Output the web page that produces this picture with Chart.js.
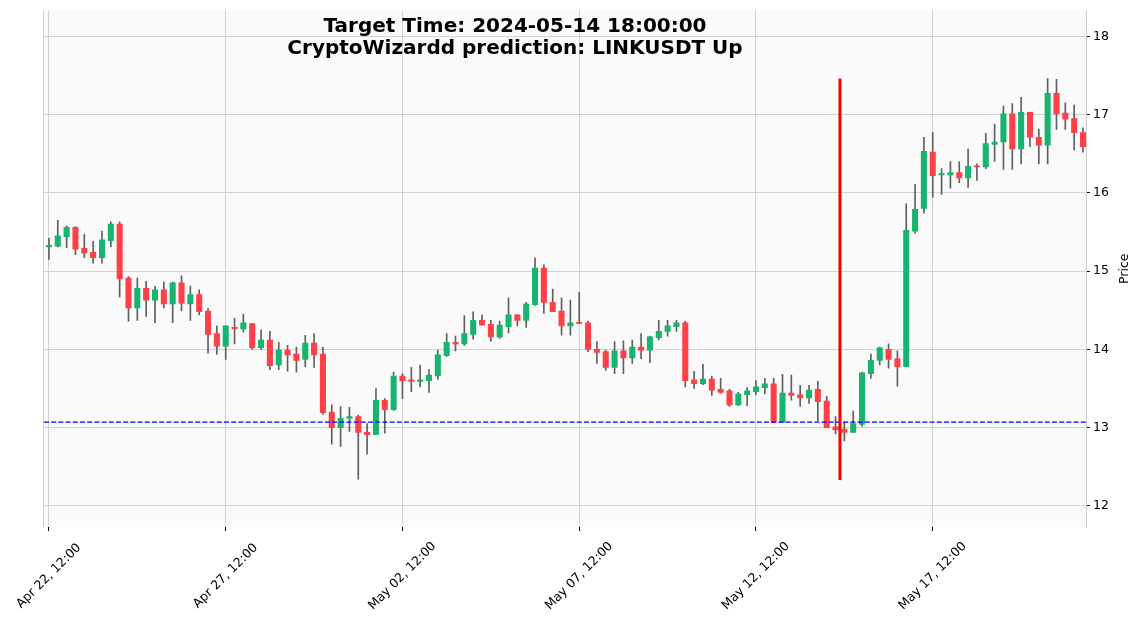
<!DOCTYPE html>
<html>
<head>
<meta charset="utf-8">
<script src="https://cdn.jsdelivr.net/npm/chart.js@4.4.0/dist/chart.umd.min.js"></script>
<style>
  html, body { margin: 0; padding: 0; background: #fff; }
  #wrap { width: 1143px; height: 627px; }
</style>
</head>
<body>
<div id="wrap"><canvas id="priceChart" width="1143" height="627"></canvas></div>
<script>
// 6h candles, LINKUSDT, starting Apr 22 12:00
const opens = [
  15.31, 15.32, 15.44, 15.56, 15.29, 15.24, 15.17, 15.39, 15.60, 14.91,
  14.53, 14.78, 14.63, 14.76, 14.58, 14.85, 14.58, 14.70, 14.49, 14.20,
  14.04, 14.28, 14.26, 14.33, 14.02, 14.12, 13.80, 13.99, 13.94, 13.87,
  14.08, 13.94, 13.20, 13.00, 13.12, 13.14, 12.94, 12.91, 13.35, 13.23,
  13.66, 13.61, 13.59, 13.60, 13.66, 13.92, 14.09, 14.07, 14.19, 14.37,
  14.32, 14.16, 14.29, 14.44, 14.37, 14.57, 15.04, 14.60, 14.49, 14.30,
  14.34, 14.34, 14.00, 13.97, 13.77, 13.98, 13.89, 14.03, 13.99, 14.15,
  14.23, 14.29, 14.34, 13.61, 13.56, 13.62, 13.49, 13.47, 13.29, 13.42,
  13.46, 13.51, 13.56, 13.07, 13.44, 13.42, 13.38, 13.49, 13.34, 13.01,
  12.98, 12.94, 13.04, 13.69, 13.86, 14.00, 13.88, 13.78, 15.51, 15.80,
  16.52, 16.23, 16.23, 16.26, 16.19, 16.34, 16.33, 16.62, 16.65, 17.01,
  16.56, 17.03, 16.71, 16.61, 17.27, 17.02, 16.95, 16.77
];
const highs = [
  15.42, 15.65, 15.58, 15.57, 15.47, 15.38, 15.51, 15.63, 15.63, 14.93,
  14.91, 14.87, 14.81, 14.86, 14.86, 14.94, 14.81, 14.76, 14.52, 14.30,
  14.30, 14.40, 14.45, 14.33, 14.25, 14.23, 14.09, 14.05, 14.03, 14.18,
  14.20, 14.03, 13.29, 13.27, 13.26, 13.16, 13.05, 13.50, 13.37, 13.71,
  13.69, 13.77, 13.80, 13.74, 13.99, 14.20, 14.17, 14.43, 14.48, 14.44,
  14.37, 14.36, 14.66, 14.44, 14.60, 15.17, 15.08, 14.77, 14.66, 14.63,
  14.73, 14.36, 14.10, 13.99, 14.10, 14.11, 14.12, 14.20, 14.17, 14.37,
  14.37, 14.37, 14.36, 13.72, 13.81, 13.66, 13.63, 13.49, 13.45, 13.51,
  13.60, 13.63, 13.63, 13.68, 13.67, 13.54, 13.54, 13.59, 13.40, 13.14,
  13.07, 13.21, 13.71, 13.94, 14.03, 14.07, 13.98, 15.86, 16.11, 16.71,
  16.77, 16.31, 16.40, 16.40, 16.56, 16.37, 16.76, 16.88, 17.11, 17.14,
  17.22, 17.03, 16.81, 17.46, 17.45, 17.15, 17.12, 16.83
];
const lows = [
  15.15, 15.31, 15.30, 15.21, 15.17, 15.10, 15.10, 15.31, 14.67, 14.36,
  14.37, 14.42, 14.34, 14.53, 14.34, 14.49, 14.37, 14.44, 13.95, 13.94,
  13.87, 14.07, 14.22, 14.00, 14.00, 13.74, 13.74, 13.72, 13.71, 13.78,
  13.77, 13.17, 12.79, 12.76, 12.95, 12.34, 12.66, 12.91, 12.93, 13.22,
  13.37, 13.46, 13.52, 13.45, 13.62, 13.91, 13.98, 14.05, 14.13, 14.31,
  14.10, 14.14, 14.21, 14.30, 14.28, 14.56, 14.46, 14.48, 14.18, 14.18,
  14.33, 13.97, 13.82, 13.73, 13.69, 13.69, 13.82, 13.88, 13.83, 14.12,
  14.17, 14.23, 13.52, 13.50, 13.55, 13.41, 13.44, 13.27, 13.28, 13.28,
  13.42, 13.43, 13.07, 13.07, 13.35, 13.27, 13.31, 13.09, 13.00, 12.92,
  12.83, 12.94, 13.02, 13.63, 13.80, 13.76, 13.53, 13.78, 15.48, 15.74,
  15.94, 15.98, 16.06, 16.13, 16.07, 16.16, 16.31, 16.40, 16.30, 16.30,
  16.37, 16.59, 16.37, 16.37, 16.81, 16.81, 16.55, 16.52
];
const closes = [
  15.33, 15.45, 15.56, 15.28, 15.23, 15.17, 15.40, 15.60, 14.90, 14.53,
  14.78, 14.63, 14.76, 14.58, 14.85, 14.59, 14.70, 14.48, 14.19, 14.04,
  14.30, 14.26, 14.34, 14.02, 14.12, 13.79, 13.99, 13.93, 13.86, 14.08,
  13.93, 13.19, 13.00, 13.12, 13.14, 12.94, 12.91, 13.35, 13.23, 13.66,
  13.60, 13.59, 13.61, 13.67, 13.93, 14.09, 14.07, 14.20, 14.37, 14.31,
  14.16, 14.31, 14.44, 14.37, 14.58, 15.04, 14.60, 14.48, 14.30, 14.34,
  14.33, 14.00, 13.96, 13.77, 13.98, 13.89, 14.03, 13.99, 14.16, 14.23,
  14.30, 14.34, 13.60, 13.56, 13.62, 13.48, 13.45, 13.29, 13.43, 13.47,
  13.52, 13.56, 13.07, 13.44, 13.41, 13.38, 13.48, 13.33, 13.00, 12.97,
  12.94, 13.05, 13.70, 13.86, 14.02, 13.87, 13.78, 15.52, 15.79, 16.53,
  16.22, 16.24, 16.26, 16.19, 16.34, 16.33, 16.63, 16.65, 17.01, 16.56,
  17.03, 16.71, 16.61, 17.27, 17.01, 16.94, 16.77, 16.59
];

const tickIndex = [0, 20, 40, 60, 80, 100];
const tickLabels = ['Apr 22, 12:00', 'Apr 27, 12:00', 'May 02, 12:00', 'May 07, 12:00', 'May 12, 12:00', 'May 17, 12:00'];
const priceTicks = [12, 13, 14, 15, 16, 17, 18];

// prediction markers
const targetPrice = 13.07;
const markIndex = 89.5;
const markLow = 12.33;
const markHigh = 17.46;

const titleLines = ['Target Time: 2024-05-14 18:00:00', 'CryptoWizardd prediction: LINKUSDT Up'];

const UP = '#17b46f';
const DOWN = '#ff4046';
const X_MIN = -0.56, X_MAX = 117.34;

const candleColor = ctx => {
    const i = ctx.dataIndex;
    return closes[i] >= opens[i] ? UP : DOWN;
};

// background, left spine, title, rotated x labels and y label
const decor = {
    id: 'decor',
    beforeDraw(chart) {
        const { ctx, chartArea: a } = chart;
        ctx.save();
        ctx.fillStyle = '#fafafa';
        ctx.fillRect(a.left, a.top, a.right - a.left, a.bottom - a.top);
        ctx.strokeStyle = '#cfcfcf';
        ctx.lineWidth = 1;
        ctx.beginPath();
        ctx.moveTo(a.left - 0.5, a.top);
        ctx.lineTo(a.left - 0.5, a.bottom);
        ctx.stroke();
        ctx.restore();
    },
    afterDraw(chart) {
        const { ctx, chartArea: a } = chart;
        const xs = chart.scales.x;
        ctx.save();
        ctx.fillStyle = '#000';
        ctx.textAlign = 'center';
        ctx.textBaseline = 'middle';
        ctx.font = "bold 20px 'DejaVu Sans'";
        ctx.fillText(titleLines[0], 515, 27);
        ctx.fillText(titleLines[1], 515, 49);

        ctx.font = "12.5px 'DejaVu Sans'";
        tickIndex.forEach((v, i) => {
            ctx.save();
            ctx.translate(xs.getPixelForValue(v), a.bottom + 49);
            ctx.rotate(-Math.PI / 4);
            ctx.fillText(tickLabels[i], 0, 0);
            ctx.restore();
        });

        ctx.translate(1125, (a.top + a.bottom) / 2);
        ctx.rotate(-Math.PI / 2);
        ctx.fillText('Price', 0, 0);
        ctx.restore();
    }
};

new Chart(document.getElementById('priceChart'), {
    type: 'bar',
    data: {
        datasets: [
            {
                type: 'line',
                data: [{ x: markIndex, y: markLow }, { x: markIndex, y: markHigh }],
                borderColor: '#ff0000',
                borderWidth: 3,
                pointRadius: 0,
                order: 0
            },
            {
                type: 'line',
                data: [{ x: X_MIN, y: targetPrice }, { x: X_MAX, y: targetPrice }],
                borderColor: '#0000ff',
                borderWidth: 1.3,
                borderDash: [5, 2.2],
                pointRadius: 0,
                order: 1
            },
            {
                data: opens.map((o, i) => ({ x: i, y: [o, closes[i]] })),
                backgroundColor: candleColor,
                barThickness: 5.4,
                minBarLength: 1.2,
                grouped: false,
                order: 2
            },
            {
                data: highs.map((h, i) => ({ x: i, y: [lows[i], h] })),
                backgroundColor: '#606060',
                barThickness: 1,
                grouped: false,
                order: 3
            }
        ]
    },
    options: {
        responsive: false,
        animation: false,
        layout: { padding: { left: 44, top: 10, right: 0, bottom: 0 } },
        plugins: {
            legend: { display: false },
            tooltip: { enabled: false }
        },
        scales: {
            x: {
                type: 'linear',
                min: X_MIN,
                max: X_MAX,
                offset: false,
                grid: { color: '#d3d3d3', tickColor: '#000', tickLength: 4, offset: false },
                border: { display: false },
                ticks: { display: false },
                afterBuildTicks: s => { s.ticks = tickIndex.map(v => ({ value: v })); },
                afterFit: s => { s.height = 100; }
            },
            y: {
                position: 'right',
                min: 11.73,
                max: 18.33,
                grid: { color: '#d3d3d3', tickColor: '#000', tickLength: 4 },
                border: { display: true, color: '#cfcfcf' },
                ticks: {
                    padding: 3,
                    color: '#000',
                    font: { family: "'DejaVu Sans'", size: 12.5 }
                },
                afterBuildTicks: s => { s.ticks = priceTicks.map(v => ({ value: v })); },
                afterFit: s => { s.width = 57; }
            }
        }
    },
    plugins: [decor]
});
</script>
</body>
</html>
